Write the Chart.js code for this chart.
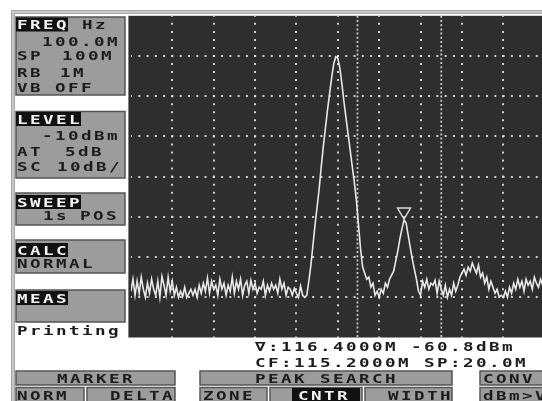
<!DOCTYPE html>
<html>
<head>
<meta charset="utf-8">
<script src="https://cdn.jsdelivr.net/npm/chart.js@4.4.1/dist/chart.umd.min.js"></script>
<style>
  html, body { margin: 0; padding: 0; background: #fff; overflow: hidden; }
  #scope { position: absolute; left: 0; top: 0; }
</style>
</head>
<body>
<canvas id="scope" width="546" height="401"></canvas>
<script>
// sweep settings (MHz) and level scale (dBm)
const START_MHZ = 105.2;
const STEP_MHZ = 0.1;
const X_MIN = 105.2, X_MAX = 125.2, X_STEP = 2;
const Y_MIN = -90, Y_MAX = -10, Y_STEP = 10;

// trace, one value per 0.1 MHz
const TRACE_DBM = [
  -78.5, -75.5, -79.5, -76, -79, -75, -78, -80, -76.5, -79,
  -75.5, -78, -79.5, -76, -80, -74.8, -77, -79.5, -75, -78.5,
  -76, -79.5, -77.5, -80, -78.5, -79.8, -77.5, -80, -79, -78,
  -79.5, -78, -80, -77, -79, -76.5, -78.5, -75.2, -79, -76,
  -78, -77, -79.5, -75.5, -78, -76.5, -79.5, -77, -78.5, -75,
  -79, -76, -78, -75.5, -79.5, -77, -76, -79, -75.8, -78,
  -76.5, -79, -77.5, -78, -76, -79.5, -77, -78.5, -76.5, -78,
  -77, -79, -75.5, -78, -76.5, -79.5, -77.5, -78, -79.5, -77.8,
  -79, -80, -77.2, -79.5, -80,
  // main carrier
  -79.5, -76, -72, -67, -62, -57.5, -53, -47.5, -42.5, -38,
  -33.5, -29.5, -25.5, -22, -20.2, -20.5, -23, -27, -31.5, -35.5,
  -39.5, -43.5, -47.5, -51.5, -56, -62, -68, -72.5, -74, -75.5,
  -75, -77.5, -76.5, -79.5, -78.5, -80, -78, -79, -76.5, -77.5,
  // second signal
  -75.5, -74.5, -73.5, -71, -68.5, -65.5, -63, -60.8, -61.5, -64.5,
  -67.5, -70.5, -73, -75.5, -78.5, -79.5, -76,
  -77.5, -75.5, -78, -76.5, -77, -75.8, -79, -76, -78,
  -79.5, -77, -80, -78, -79.5, -76.5, -78.5, -77, -75, -74,
  -73, -74.5, -72.5, -73.5, -71.5, -72.8, -74, -72, -75, -74,
  -76.5, -75, -78, -76, -77.5, -79, -78, -80, -79.5, -80,
  -78.5, -80, -77.5, -79, -76.5, -78, -75.5, -77.5, -76, -78.5,
  -75.5, -77, -76, -78, -75, -76.5, -77.5, -75.5, -77, -76
];
const FREQ_MHZ = TRACE_DBM.map((_, i) => +(START_MHZ + i * STEP_MHZ).toFixed(1));

// peak zone lines and the marker
const ZONE_MHZ = [116.15, 120.2];
const MARKER_MHZ = 118.4;
const MARKER_DBM = -60.8;

const PITCH = 13;
function mono(ctx, s, x, yc, color) {
  ctx.font = 'bold 13px "DejaVu Sans Mono"';
  ctx.textBaseline = 'alphabetic';
  ctx.fillStyle = color || '#1c1c1c';
  for (let i = 0; i < s.length; i++) {
    ctx.save();
    ctx.translate(x + i * PITCH, yc + 4.7);
    ctx.scale(1.35, 1);
    ctx.fillText(s[i], 0, 0);
    ctx.restore();
  }
}
function label(ctx, s, x, yc) {
  ctx.fillStyle = '#111';
  ctx.fillRect(x - 1, yc - 7, s.length * PITCH, 14);
  mono(ctx, s, x, yc, '#f2f2f2');
}
function box(ctx, x1, y1, x2, y2) {
  ctx.fillStyle = '#9c9c9c';
  ctx.fillRect(x1, y1, x2 - x1, y2 - y1);
  ctx.strokeStyle = '#555';
  ctx.lineWidth = 1.5;
  ctx.strokeRect(x1, y1, x2 - x1, y2 - y1);
}

const screenBg = {
  id: 'screenBg',
  beforeDraw(chart) {
    const { ctx, chartArea: a } = chart;
    ctx.save();
    ctx.fillStyle = '#2e2e2e';
    ctx.fillRect(a.left - 2.5, a.top, a.right - a.left + 4, a.bottom - a.top);
    ctx.restore();
  }
};

const marker = {
  id: 'marker',
  afterDatasetsDraw(chart) {
    const { ctx, scales } = chart;
    const px = scales.x.getPixelForValue(MARKER_MHZ);
    const py = scales.y.getPixelForValue(MARKER_DBM);
    ctx.save();
    ctx.strokeStyle = '#d8d8d8';
    ctx.lineWidth = 1.5;
    ctx.beginPath();
    ctx.moveTo(px - 6.5, py - 12);
    ctx.lineTo(px + 6.5, py - 12);
    ctx.lineTo(px, py - 1);
    ctx.closePath();
    ctx.stroke();
    ctx.restore();
  }
};

const panels = {
  id: 'panels',
  afterDraw(chart) {
    const ctx = chart.ctx;
    ctx.save();
    // frame
    ctx.fillStyle = '#a6a6a6';
    ctx.fillRect(11, 10, 535, 4);
    ctx.fillRect(11, 10, 4, 391);
    ctx.fillStyle = '#e8e8e8';
    ctx.fillRect(12, 11.5, 534, 1);
    ctx.fillRect(12.5, 12, 1, 389);

    box(ctx, 16, 17, 125, 95);
    label(ctx, 'FREQ', 17, 24.5);
    mono(ctx, 'Hz', 82, 24.5);
    mono(ctx, '100.0M', 42, 41.5);
    mono(ctx, 'SP', 17, 55.5); mono(ctx, '100M', 62, 55.5);
    mono(ctx, 'RB', 17, 72); mono(ctx, '1M', 60, 72);
    mono(ctx, 'VB', 17, 87.5); mono(ctx, 'OFF', 55, 87.5);

    box(ctx, 16, 111.5, 125, 178);
    label(ctx, 'LEVEL', 17, 119);
    mono(ctx, '-10dBm', 42, 135);
    mono(ctx, 'AT', 17, 151); mono(ctx, '5dB', 65, 151);
    mono(ctx, 'SC', 17, 166); mono(ctx, '10dB/', 57, 166);

    box(ctx, 16, 193, 125, 225);
    label(ctx, 'SWEEP', 17, 202);
    mono(ctx, '1s', 43, 215.5); mono(ctx, 'POS', 80, 215.5);

    box(ctx, 16, 240, 125, 273);
    label(ctx, 'CALC', 17, 250);
    mono(ctx, 'NORMAL', 17, 263.5);

    box(ctx, 16, 290, 125, 322);
    label(ctx, 'MEAS', 17, 298);
    mono(ctx, 'Printing', 17, 330.5);

    // marker readout
    mono(ctx, '\u2207:116.4000M -60.8dBm', 255, 346);
    mono(ctx, 'CF:115.2000M SP:20.0M', 255, 362.5);

    // soft keys
    box(ctx, 16, 371, 175, 385);
    mono(ctx, 'MARKER', 57, 378.5);
    box(ctx, 16, 387.5, 84, 403);
    mono(ctx, 'NORM', 17, 395);
    box(ctx, 87, 387.5, 175, 403);
    mono(ctx, 'DELTA', 110, 395);

    box(ctx, 200, 371, 452, 385);
    mono(ctx, 'PEAK SEARCH', 255, 378.5);
    box(ctx, 200, 387.5, 267, 403);
    mono(ctx, 'ZONE', 203, 395);
    box(ctx, 270, 387.5, 362, 403);
    ctx.fillStyle = '#111';
    ctx.fillRect(292, 388, 68, 13);
    mono(ctx, 'CNTR', 298, 395, '#f2f2f2');
    box(ctx, 365, 387.5, 452, 403);
    mono(ctx, 'WIDTH', 388, 395);

    box(ctx, 480, 371, 548, 385);
    mono(ctx, 'CONV', 483, 378.5);
    box(ctx, 480, 387.5, 548, 403);
    mono(ctx, 'dBm>V', 483, 395);
    ctx.restore();
  }
};

function gridColor(c) {
  const n = c.scale.ticks.length;
  return (c.index === 0 || c.index === n - 1) ? 'rgba(0,0,0,0)' : 'rgba(225,225,225,0.9)';
}

const ctx = document.getElementById('scope').getContext('2d');
new Chart(ctx, {
  type: 'line',
  data: {
    datasets: [
      {
        label: 'trace',
        data: FREQ_MHZ.map((f, i) => ({ x: f, y: TRACE_DBM[i] })),
        borderColor: '#e8e8e8',
        borderWidth: 1.6,
        pointRadius: 0,
        tension: 0
      },
      ...ZONE_MHZ.map(z => ({
        label: 'zone',
        data: [{ x: z, y: Y_MAX }, { x: z, y: Y_MIN }],
        borderColor: 'rgba(215,215,215,0.9)',
        borderWidth: 1.8,
        borderDash: [2, 2.2],
        pointRadius: 0
      }))
    ]
  },
  options: {
    responsive: false,
    animation: false,
    layout: { padding: { left: 130.9, top: 15.8, right: 1.3, bottom: 63.5 } },
    plugins: { legend: { display: false }, tooltip: { enabled: false } },
    scales: {
      x: {
        type: 'linear',
        min: X_MIN, max: X_MAX,
        ticks: { stepSize: X_STEP, display: false },
        grid: { color: gridColor, lineWidth: 2, drawTicks: false },
        border: { display: false, dash: [2, 6.04], dashOffset: 1 }
      },
      y: {
        min: Y_MIN, max: Y_MAX,
        ticks: { stepSize: Y_STEP, display: false },
        grid: { color: gridColor, lineWidth: 2, drawTicks: false },
        border: { display: false, dash: [2, 6.28], dashOffset: 1 }
      }
    }
  },
  plugins: [screenBg, marker, panels]
});
</script>
</body>
</html>
